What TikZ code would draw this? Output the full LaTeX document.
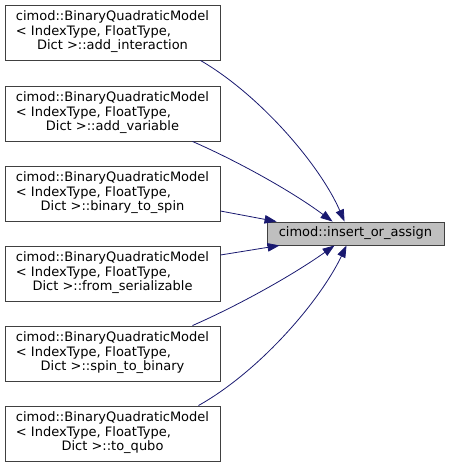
\documentclass[tikz,border=0pt]{standalone}
\usepackage{fontspec}
\setmainfont{DejaVu Sans}
\usetikzlibrary{arrows.meta}
\definecolor{edgeblue}{RGB}{25,25,112}
\definecolor{boxborder}{RGB}{64,64,64}
\definecolor{hlfill}{RGB}{191,191,191}
\newcommand{\bqm}[1]{\begin{tabular}{@{}l@{}}cimod::BinaryQuadraticModel\\ < IndexType, FloatType,\\ \multicolumn{1}{@{}c@{}}{Dict >::#1}\end{tabular}}
\begin{document}
\begin{tikzpicture}[x=1pt,y=-1pt,
  every node/.style={font=\fontsize{13}{14.5}\selectfont, inner sep=0pt},
  fnbox/.style={draw=boxborder, line width=0.9pt, fill=white, minimum width=215pt, minimum height=55pt},
  target/.style={draw=boxborder, line width=0.9pt, fill=hlfill, minimum width=177pt, minimum height=23pt},
  edge/.style={draw=edgeblue, line width=0.8pt, -{Triangle[length=12pt,width=8.5pt]}}]
\useasboundingbox (0,0) rectangle (449,467);
\node[fnbox] (b1) at (112.5,32.5) {\bqm{add\_interaction}};
\node[fnbox] (b2) at (112.5,113.5) {\bqm{add\_variable}};
\node[fnbox] (b3) at (112.5,193.5) {\bqm{binary\_to\_spin}};
\node[fnbox] (b4) at (112.5,273.5) {\bqm{from\_serializable}};
\node[fnbox] (b5) at (112.5,353.5) {\bqm{spin\_to\_binary}};
\node[fnbox] (b6) at (112.5,433.5) {\bqm{to\_qubo}};
\node[target] (t) at (355.5,233.5) {cimod::insert\_or\_assign};
\draw[edge] ([xshift=-20pt]b1.south east) .. controls (260,95) and (320,165) .. ([xshift=78pt]t.north west);
\draw[edge] ([xshift=-28pt]b2.south east) .. controls (235,160) and (290,190) .. ([xshift=66pt]t.north west);
\draw[edge] ([yshift=-17.5pt]b3.east) -- ([xshift=10pt]t.north west);
\draw[edge] ([yshift=18.5pt]b4.east) -- ([xshift=13pt]t.south west);
\draw[edge] ([xshift=-28pt]b5.north east) .. controls (235,307) and (290,277) .. ([xshift=68pt]t.south west);
\draw[edge] ([xshift=-22pt]b6.north east) .. controls (260,371) and (320,301) .. ([xshift=80pt]t.south west);
\end{tikzpicture}
\end{document}
